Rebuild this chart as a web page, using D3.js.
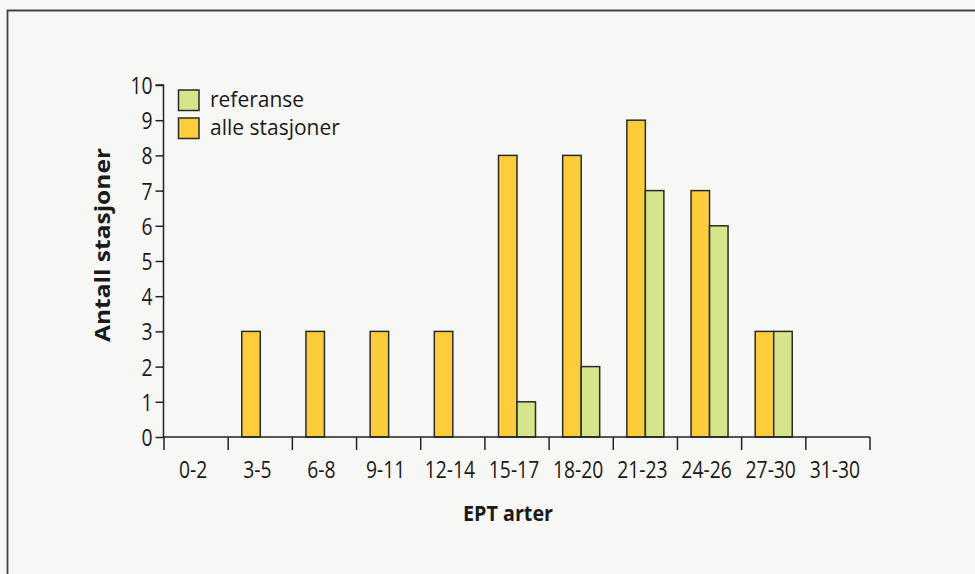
<!DOCTYPE html>
<html><head><meta charset="utf-8">
<script src="https://cdn.jsdelivr.net/npm/d3@7"></script>
<style>
html,body{margin:0;padding:0;background:#f7f7f5;}
text{font-family:"Open Sans",sans-serif;fill:#1a1a1a;}
</style></head>
<body>
<svg id="c" width="975" height="574"></svg>
<script>
const categories = ["0-2","3-5","6-8","9-11","12-14","15-17","18-20","21-23","24-26","27-30","31-30"];
const alleStasjoner = [0,3,3,3,3,8,8,9,7,3,0];
const referanse = [0,0,0,0,0,1,2,7,6,3,0];
const yTicks = [0,1,2,3,4,5,6,7,8,9,10];
const seriesNames = ["referanse","alle stasjoner"];
const colors = {"referanse":"#d5e58a","alle stasjoner":"#fecd3c"};

const svg = d3.select("#c");
svg.append("rect").attr("width",975).attr("height",574).attr("fill","#f7f7f5");
svg.append("path").attr("d","M7.5,574V10.5H975").attr("fill","none").attr("stroke","#444").attr("stroke-width",1.8);

const x0 = 164, x1 = 870, yTop = 85, yBot = 437;
const x = d3.scaleBand().domain(categories).range([x0,x1]).padding(0);
const y = d3.scaleLinear().domain([0,10]).range([yBot,yTop]);
const barW = 18.5;
const sx = 0.84;

const g = svg.append("g");
categories.forEach((c,i)=>{
  const cx = x(c) + x.bandwidth()/2;
  if (alleStasjoner[i]>0) g.append("rect").attr("x",cx-barW).attr("y",y(alleStasjoner[i]))
    .attr("width",barW).attr("height",y(0)-y(alleStasjoner[i]))
    .attr("fill",colors["alle stasjoner"]).attr("stroke","#2a2a2a").attr("stroke-width",1.5);
  if (referanse[i]>0) g.append("rect").attr("x",cx).attr("y",y(referanse[i]))
    .attr("width",barW).attr("height",y(0)-y(referanse[i]))
    .attr("fill",colors["referanse"]).attr("stroke","#2a2a2a").attr("stroke-width",1.5);
});

// y axis
const yAxis = d3.axisLeft(y).tickValues(yTicks).tickSize(8).tickFormat(d3.format("d"));
const ya = svg.append("g").attr("transform",`translate(${x0-0.5},0)`).call(yAxis);
ya.selectAll("path,line").attr("stroke","#222").attr("stroke-width",1.5);
ya.select(".domain").attr("d",`M-8,${yTop}H0V${yBot}`);
ya.selectAll(".tick text").attr("x",null).attr("dy",null)
  .attr("transform",`translate(-11,8.5) scale(${sx},1)`)
  .attr("font-size",23).attr("font-family",'"Open Sans",sans-serif').attr("fill","#1a1a1a");

// x axis with ticks at band boundaries
const xa = svg.append("g").attr("transform",`translate(0,${yBot})`);
xa.append("line").attr("x1",x0-1).attr("x2",x1).attr("y1",0).attr("y2",0).attr("stroke","#222").attr("stroke-width",1.5);
const bounds = categories.map(c=>x(c)).concat([x1]);
xa.selectAll("line.t").data(bounds).join("line").attr("class","t")
  .attr("x1",d=>d).attr("x2",d=>d).attr("y1",0).attr("y2",13).attr("stroke","#222").attr("stroke-width",1.5);
xa.selectAll("text").data(categories).join("text")
  .attr("transform",d=>`translate(${x(d)+x.bandwidth()/2-3},41) scale(${sx},1)`)
  .attr("text-anchor","middle").attr("font-size",23).text(d=>d);

// axis titles
svg.append("text").attr("x",508).attr("y",521).attr("text-anchor","middle")
  .attr("font-size",21).attr("font-weight","bold")
  .attr("textLength",90).attr("lengthAdjust","spacingAndGlyphs").text("EPT arter");
svg.append("text").attr("transform",`translate(110,245) rotate(-90)`).attr("text-anchor","middle")
  .attr("font-size",22).attr("font-weight","bold")
  .attr("textLength",194).attr("lengthAdjust","spacingAndGlyphs").text("Antall stasjoner");

// legend
seriesNames.forEach((s,i)=>{
  const ly = 90 + i*28;
  svg.append("rect").attr("x",178.5).attr("y",ly).attr("width",20.5).attr("height",20.5)
    .attr("fill",colors[s]).attr("stroke","#2a2a2a").attr("stroke-width",1.5);
  svg.append("text").attr("x",210).attr("y",ly+17).attr("font-size",21).text(s);
});
</script>
</body></html>
